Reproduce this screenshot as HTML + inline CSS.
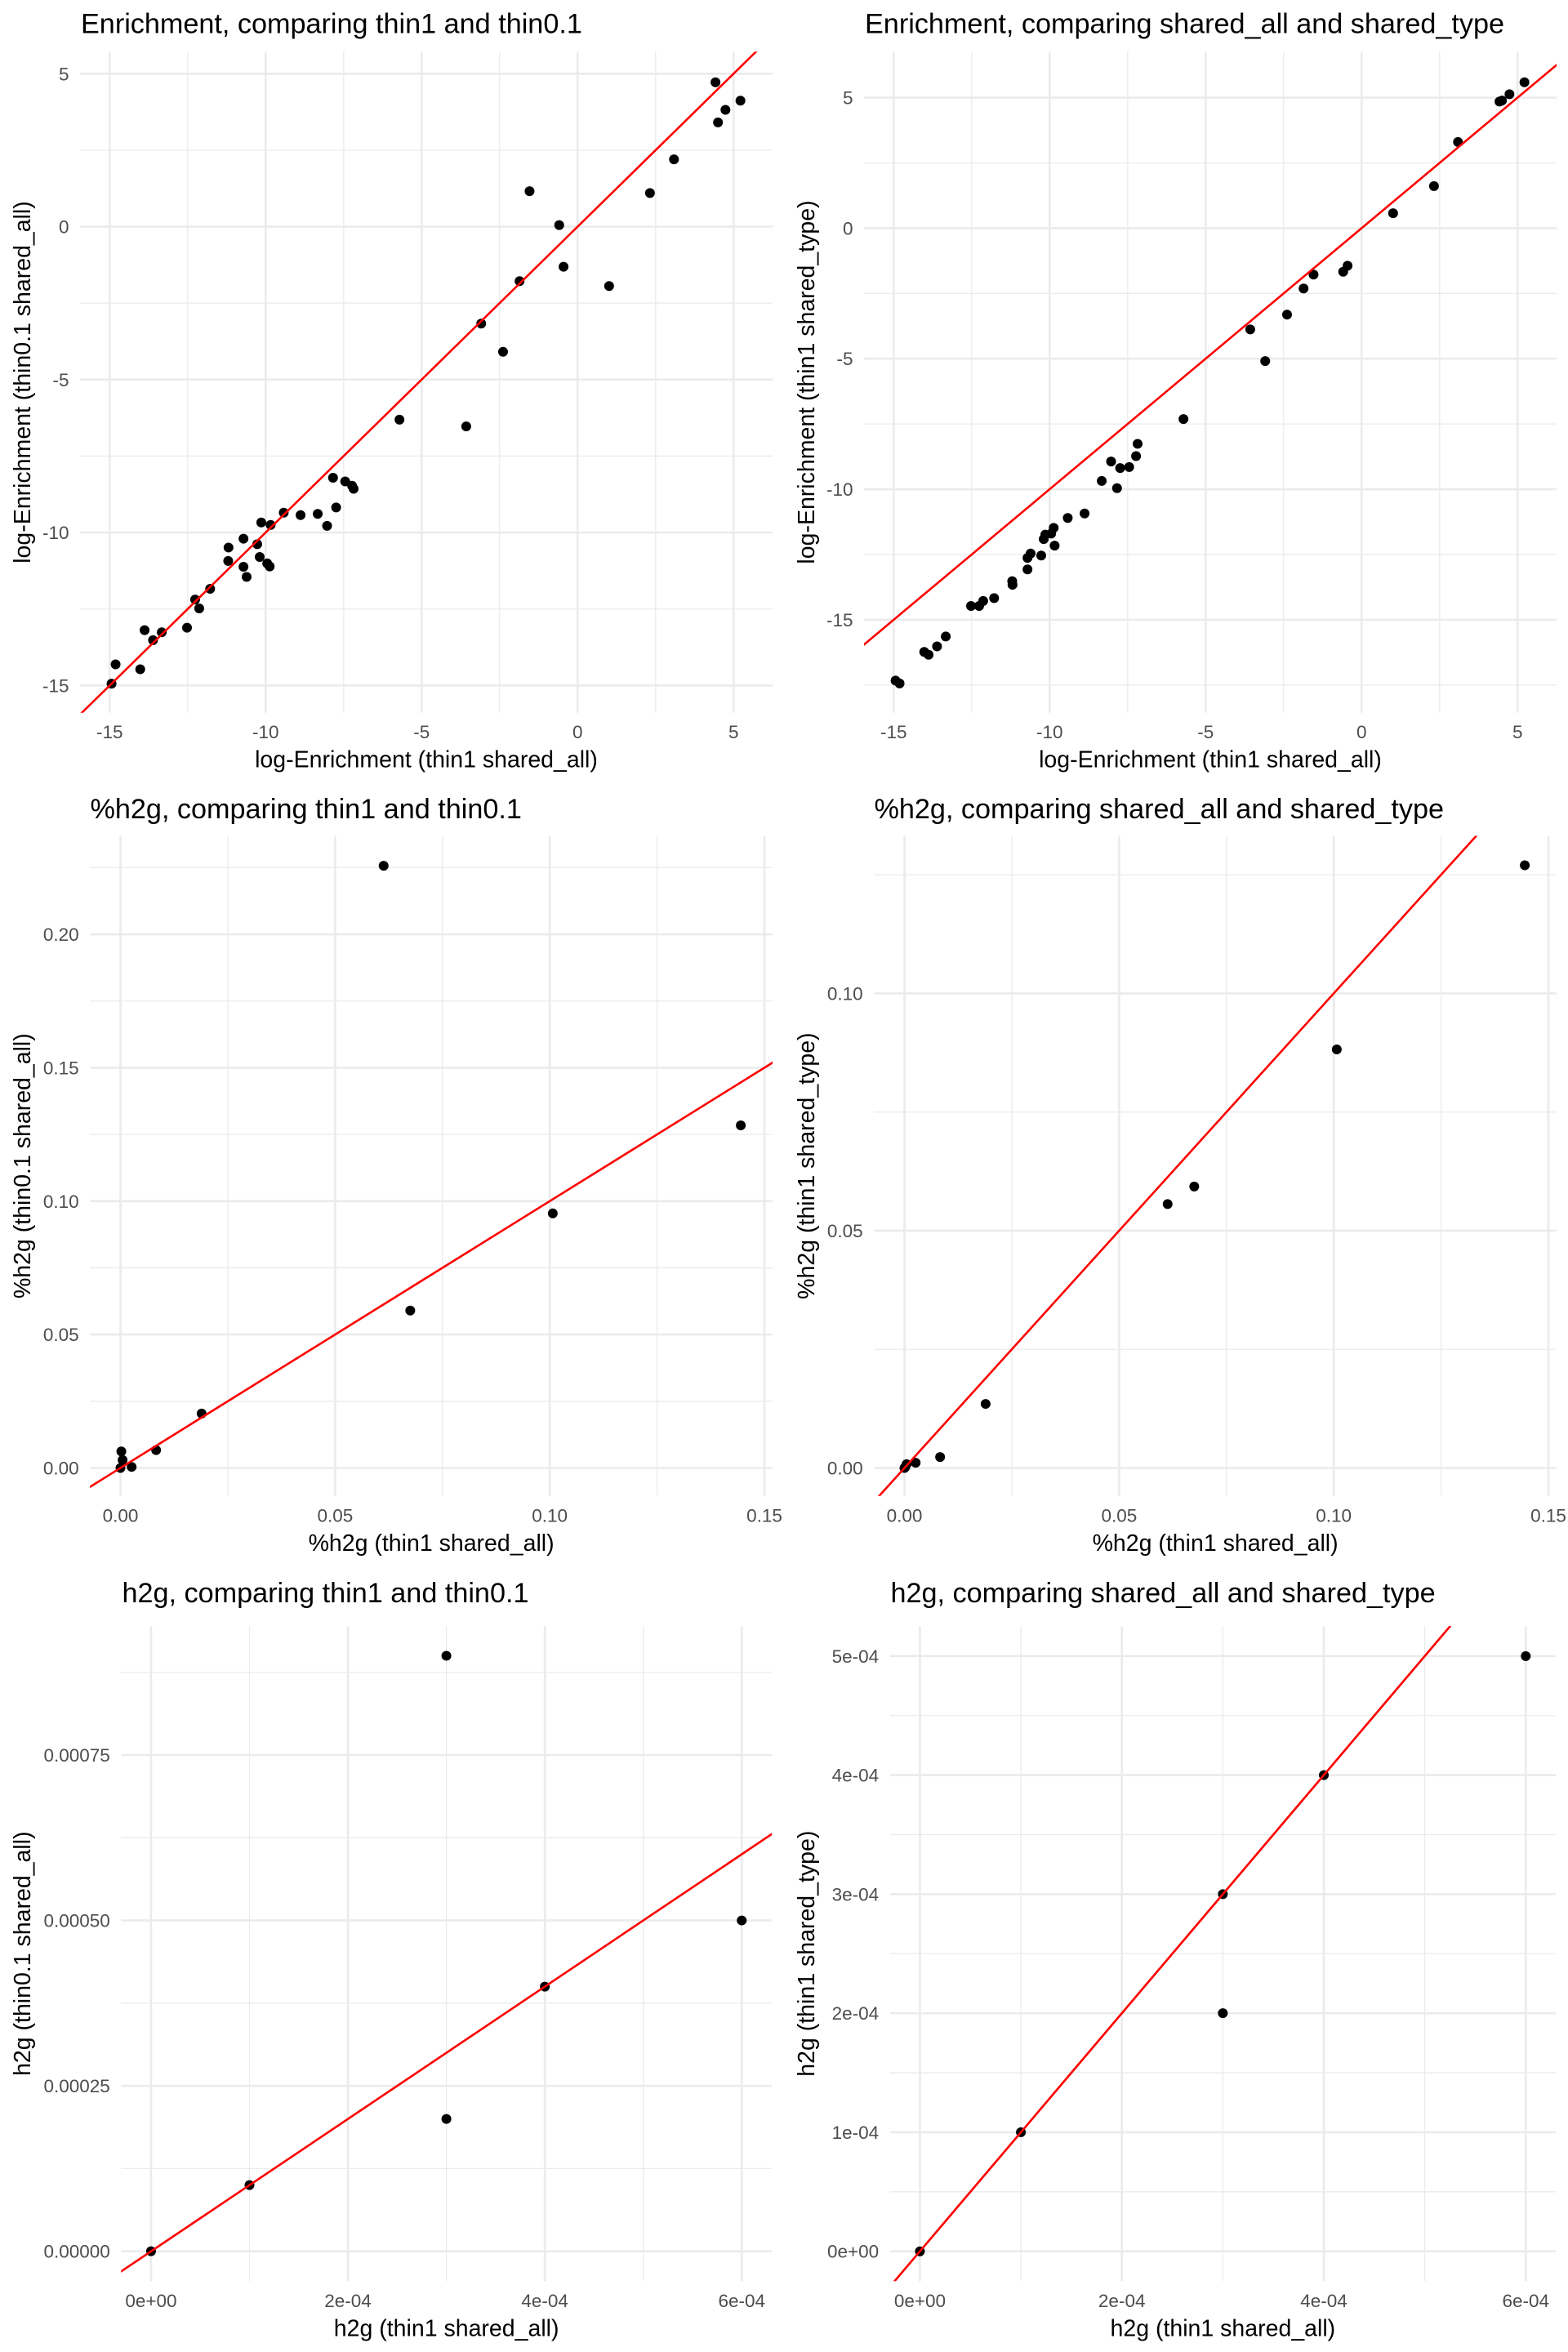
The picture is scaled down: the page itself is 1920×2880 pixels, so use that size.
<!DOCTYPE html>
<html><head><meta charset="utf-8">
<style>
html,body{margin:0;padding:0;background:#fff;width:1920px;height:2880px;overflow:hidden;}
svg{display:block;font-family:"Liberation Sans",Arial,sans-serif;}
.tick{font-size:22.5px;fill:#4d4d4d;}
.atitle{font-size:28.5px;fill:#000;}
.ptitle{font-size:34.2px;fill:#000;}
</style></head>
<body>
<svg id="chart" width="1920" height="2880" viewBox="0 0 1920 2880" xmlns="http://www.w3.org/2000/svg"></svg>
<script>
// ---- Data ----
const enrichX = [4.42,5.22,4.74,4.50,3.09,2.32,-1.54,-0.59,-0.45,1.01,-1.86,-3.09,-2.39,-5.71,-3.57,-7.84,-7.45,-7.23,-7.18,-7.74,-8.33,-8.88,-8.03,-9.42,-10.14,-9.84,-10.71,-10.27,-11.19,-11.20,-10.71,-10.19,-9.95,-9.87,-10.61,-11.78,-12.26,-12.13,-12.52,-13.88,-13.33,-13.61,-14.02,-14.81,-14.94];
const enrichThin01 = [4.72,4.12,3.82,3.41,2.20,1.10,1.16,0.05,-1.31,-1.94,-1.78,-3.17,-4.09,-6.31,-6.53,-8.21,-8.33,-8.47,-8.57,-9.18,-9.39,-9.43,-9.78,-9.35,-9.67,-9.75,-10.20,-10.38,-10.49,-10.93,-11.12,-10.80,-11.01,-11.11,-11.45,-11.84,-12.19,-12.48,-13.11,-13.19,-13.26,-13.52,-14.47,-14.31,-14.94];
const enrichSharedType = [4.85,5.59,5.13,4.89,3.30,1.61,-1.78,-1.67,-1.44,0.57,-2.31,-5.09,-3.31,-7.31,-3.88,-9.96,-9.15,-8.73,-8.26,-9.19,-9.68,-10.93,-8.94,-11.10,-11.74,-12.16,-12.63,-12.54,-13.66,-13.52,-13.07,-11.91,-11.70,-11.48,-12.46,-14.17,-14.47,-14.28,-14.47,-16.34,-15.64,-16.02,-16.23,-17.44,-17.33];
const pctX = [0.0613,0.1445,0.1007,0.0675,0.0189,0.0083,0.0002,0.0005,0.0026,0.0];
const pctThin01 = [0.2257,0.1284,0.0954,0.0590,0.0204,0.0067,0.0062,0.0030,0.0004,0.0];
const pctSharedType = [0.0556,0.1270,0.0882,0.0593,0.0135,0.0023,0.0002,0.0008,0.0011,0.0];
const h2gX = [0,1e-4,3e-4,3e-4,4e-4,6e-4];
const h2gThin01 = [0,1e-4,9e-4,2e-4,4e-4,5e-4];
const h2gSharedType = [0,1e-4,3e-4,2e-4,4e-4,5e-4];
const enrichTicks = [-15,-10,-5,0,5];
const enrichTickLabels = ["-15","-10","-5","0","5"];
const pctXTicks = [0,0.05,0.10,0.15];
const pctXTickLabels = ["0.00","0.05","0.10","0.15"];
const pctYTicks1 = [0,0.05,0.10,0.15,0.20];
const pctYTickLabels1 = ["0.00","0.05","0.10","0.15","0.20"];
const pctYTicks2 = [0,0.05,0.10];
const pctYTickLabels2 = ["0.00","0.05","0.10"];
const h2gXTicks = [0,2e-4,4e-4,6e-4];
const h2gXTickLabels = ["0e+00","2e-04","4e-04","6e-04"];
const h2gYTicks1 = [0,0.00025,0.0005,0.00075];
const h2gYTickLabels1 = ["0.00000","0.00025","0.00050","0.00075"];
const h2gYTicks2 = [0,1e-4,2e-4,3e-4,4e-4,5e-4];
const h2gYTickLabels2 = ["0e+00","1e-04","2e-04","3e-04","4e-04","5e-04"];

const NS = "http://www.w3.org/2000/svg";
const svg = document.getElementById('chart');
function mk(tag, attrs, parent){
  const e = document.createElementNS(NS, tag);
  for (const k in attrs) e.setAttribute(k, attrs[k]);
  (parent||svg).appendChild(e);
  return e;
}
function midpoints(t){const m=[];const s=t[1]-t[0];m.push(t[0]-s/2);for(let i=0;i<t.length;i++)m.push(t[i]+s/2);return m;}

let clipId = 0;
function panel(cfg){
  const g = mk('g', {});
  
  
  const sx = v => cfg.px0 + (v - cfg.dx0) / (cfg.dx1 - cfg.dx0) * (cfg.px1 - cfg.px0);
  const sy = v => cfg.py1 - (v - cfg.dy0) / (cfg.dy1 - cfg.dy0) * (cfg.py1 - cfg.py0);
  midpoints(cfg.xt).forEach(v => { if (v>cfg.dx0 && v<cfg.dx1){
    const l = mk('line',{x1:sx(v),x2:sx(v),y1:cfg.py0,y2:cfg.py1,stroke:'#ebebeb','stroke-width':1.3},g);
    
    }});
  midpoints(cfg.yt).forEach(v => { if (v>cfg.dy0 && v<cfg.dy1){
    const l = mk('line',{x1:cfg.px0,x2:cfg.px1,y1:sy(v),y2:sy(v),stroke:'#ebebeb','stroke-width':1.3},g);
    
    }});
  cfg.xt.forEach((v,i) => {
    const l = mk('line',{x1:sx(v),x2:sx(v),y1:cfg.py0,y2:cfg.py1,stroke:'#ebebeb','stroke-width':2.6},g);
    
    
    const t = mk('text',{x:sx(v),y:cfg.py1+31.5,'text-anchor':'middle',class:'tick'},g);
    t.textContent = cfg.xl[i];
    
    
  });
  cfg.yt.forEach((v,i) => {
    const l = mk('line',{x1:cfg.px0,x2:cfg.px1,y1:sy(v),y2:sy(v),stroke:'#ebebeb','stroke-width':2.6},g);
    
    
    const t = mk('text',{x:cfg.px0-13.5,y:sy(v)+8,'text-anchor':'end',class:'tick'},g);
    t.textContent = cfg.yl[i];
    
    
  });
  cfg.xs.forEach((xv,i) => {
    const c = mk('circle',{cx:sx(xv),cy:sy(cfg.ys[i]),r:6,fill:'#000'},g);
    
    
  });
  const id = 'clip'+(clipId++);
  const cp = mk('clipPath',{id:id},g);
  mk('rect',{x:cfg.px0,y:cfg.py0,width:cfg.px1-cfg.px0,height:cfg.py1-cfg.py0},cp);
  const lo = Math.min(cfg.dx0,cfg.dy0)-1, hi = Math.max(cfg.dx1,cfg.dy1)+1;
  const ln = mk('line',{x1:sx(lo),y1:sy(lo),x2:sx(hi),y2:sy(hi),stroke:'#ff0000','stroke-width':2.6,'clip-path':'url(#'+id+')'},g);
  
  
  const tt = mk('text',{x:cfg.tx,y:cfg.ty,class:'ptitle'},g);
  tt.textContent = cfg.title;
  
  
  const xa = mk('text',{x:(cfg.px0+cfg.px1)/2,y:cfg.py1+67,'text-anchor':'middle',class:'atitle'},g);
  xa.textContent = cfg.xtitle;
  
  
  const cy = (cfg.py0+cfg.py1)/2, cx = cfg.ox+37;
  const ya = mk('text',{x:cx,y:cy,'text-anchor':'middle',class:'atitle',transform:'rotate(-90 '+cx+' '+cy+')'},g);
  ya.textContent = cfg.ytitle;
  
  
}

const topY0=63.3, topY1=872.7, midY0=1023.5, midY1=1831.8, botY0=1991.1, botY1=2793.3;
panel({name:'enrichment-thin-panel',ox:0,px0:98,px1:946,py0:topY0,py1:topY1,dx0:-15.95,dx1:6.25,dy0:-15.89,dy1:5.72,
  xt:enrichTicks,xl:enrichTickLabels,yt:enrichTicks,yl:enrichTickLabels,xs:enrichX,ys:enrichThin01,
  tx:99,ty:40.7,title:'Enrichment, comparing thin1 and thin0.1',xtitle:'log-Enrichment (thin1 shared_all)',ytitle:'log-Enrichment (thin0.1 shared_all)'});
panel({name:'enrichment-shared-panel',ox:960,px0:1058,px1:1906,py0:topY0,py1:topY1,dx0:-15.95,dx1:6.25,dy0:-18.56,dy1:6.76,
  xt:enrichTicks,xl:enrichTickLabels,yt:enrichTicks,yl:enrichTickLabels,xs:enrichX,ys:enrichSharedType,
  tx:1059,ty:40.7,title:'Enrichment, comparing shared_all and shared_type',xtitle:'log-Enrichment (thin1 shared_all)',ytitle:'log-Enrichment (thin1 shared_type)'});
panel({name:'pct-h2g-thin-panel',ox:0,px0:110.2,px1:946,py0:midY0,py1:midY1,dx0:-0.0071,dx1:0.1519,dy0:-0.0105,dy1:0.2369,
  xt:pctXTicks,xl:pctXTickLabels,yt:pctYTicks1,yl:pctYTickLabels1,xs:pctX,ys:pctThin01,
  tx:110.5,ty:1002,title:'%h2g, comparing thin1 and thin0.1',xtitle:'%h2g (thin1 shared_all)',ytitle:'%h2g (thin0.1 shared_all)'});
panel({name:'pct-h2g-shared-panel',ox:960,px0:1070.2,px1:1906,py0:midY0,py1:midY1,dx0:-0.0071,dx1:0.1519,dy0:-0.0059,dy1:0.1332,
  xt:pctXTicks,xl:pctXTickLabels,yt:pctYTicks2,yl:pctYTickLabels2,xs:pctX,ys:pctSharedType,
  tx:1070.5,ty:1002,title:'%h2g, comparing shared_all and shared_type',xtitle:'%h2g (thin1 shared_all)',ytitle:'%h2g (thin1 shared_type)'});
panel({name:'h2g-thin-panel',ox:0,px0:148.3,px1:945,py0:botY0,py1:botY1,dx0:-3.04e-5,dx1:6.305e-4,dy0:-4.52e-5,dy1:9.449e-4,
  xt:h2gXTicks,xl:h2gXTickLabels,yt:h2gYTicks1,yl:h2gYTickLabels1,xs:h2gX,ys:h2gThin01,
  tx:149.5,ty:1962,title:'h2g, comparing thin1 and thin0.1',xtitle:'h2g (thin1 shared_all)',ytitle:'h2g (thin0.1 shared_all)'});
panel({name:'h2g-shared-panel',ox:960,px0:1089.7,px1:1905,py0:botY0,py1:botY1,dx0:-2.97e-5,dx1:6.297e-4,dy0:-2.51e-5,dy1:5.252e-4,
  xt:h2gXTicks,xl:h2gXTickLabels,yt:h2gYTicks2,yl:h2gYTickLabels2,xs:h2gX,ys:h2gSharedType,
  tx:1090.5,ty:1962,title:'h2g, comparing shared_all and shared_type',xtitle:'h2g (thin1 shared_all)',ytitle:'h2g (thin1 shared_type)'});
</script>
</body></html>
